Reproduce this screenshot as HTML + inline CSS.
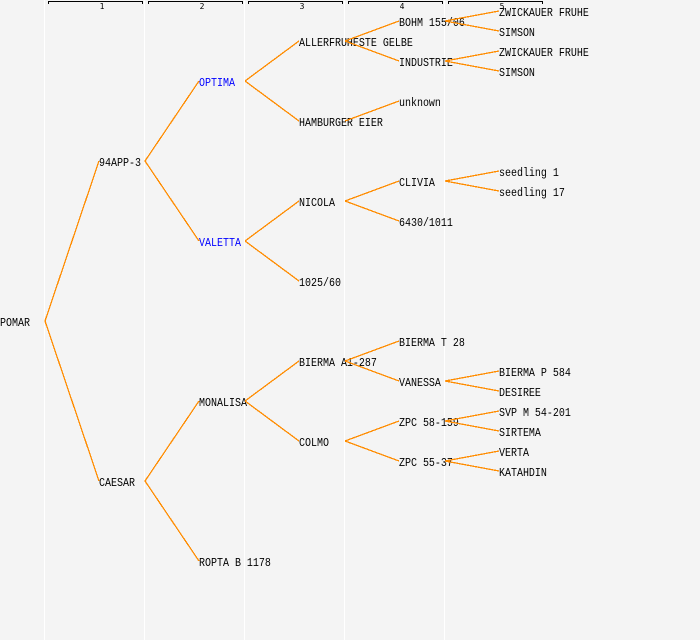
<!DOCTYPE html>
<html>
<head>
<meta charset="utf-8">
<style>
html,body{margin:0;padding:0;background:#f4f4f4;width:700px;height:640px;overflow:hidden}
svg{display:block}
text{font-family:"Liberation Mono","DejaVu Sans Mono",monospace;font-size:12px;fill:#000}
.b{fill:#0000ff}
.n{font-family:"DejaVu Sans Mono",monospace;font-size:8px;text-anchor:middle}
.w line{stroke:#fff;stroke-width:1}
.k path{fill:none;stroke:#000;stroke-width:1}
.o line{stroke:#ff8c00;stroke-width:1.3}
</style>
</head>
<body>
<svg width="700" height="640" viewBox="0 0 700 640" xmlns="http://www.w3.org/2000/svg">
<rect width="700" height="640" fill="#f4f4f4"/>
<g class="w" shape-rendering="crispEdges">
<line x1="44.5" y1="0" x2="44.5" y2="640"/>
<line x1="144.5" y1="0" x2="144.5" y2="640"/>
<line x1="244.5" y1="0" x2="244.5" y2="640"/>
<line x1="344.5" y1="0" x2="344.5" y2="640"/>
<line x1="444.5" y1="0" x2="444.5" y2="640"/>
</g>
<g class="k" shape-rendering="crispEdges">
<path d="M48.5 4V1.5H142.5V4"/>
<path d="M148.5 4V1.5H242.5V4"/>
<path d="M248.5 4V1.5H342.5V4"/>
<path d="M348.5 4V1.5H442.5V4"/>
<path d="M448.5 4V1.5H542.5V4"/>
</g>
<text class="n" x="102" y="9">1</text>
<text class="n" x="202" y="9">2</text>
<text class="n" x="302" y="9">3</text>
<text class="n" x="402" y="9">4</text>
<text class="n" x="502" y="9">5</text>

<g transform="scale(.8333 1)">
<text x="0" y="326">POMAR</text>
<text x="118.8" y="166">94APP-3</text>
<text x="118.8" y="486">CAESAR</text>
<text class="b" x="238.8" y="86">OPTIMA</text>
<text class="b" x="238.8" y="246">VALETTA</text>
<text x="238.8" y="406">MONALISA</text>
<text x="238.8" y="566">ROPTA B 1178</text>
<text x="358.8" y="46">ALLERFRUHESTE GELBE</text>
<text x="358.8" y="126">HAMBURGER EIER</text>
<text x="358.8" y="206">NICOLA</text>
<text x="358.8" y="286">1025/60</text>
<text x="358.8" y="366">BIERMA A1-287</text>
<text x="358.8" y="446">COLMO</text>
<text x="478.8" y="26">BOHM 155/06</text>
<text x="478.8" y="66">INDUSTRIE</text>
<text x="478.8" y="106">unknown</text>
<text x="478.8" y="186">CLIVIA</text>
<text x="478.8" y="226">6430/1011</text>
<text x="478.8" y="346">BIERMA T 28</text>
<text x="478.8" y="386">VANESSA</text>
<text x="478.8" y="426">ZPC 58-159</text>
<text x="478.8" y="466">ZPC 55-37</text>
<text x="598.8" y="16">ZWICKAUER FRUHE</text>
<text x="598.8" y="36">SIMSON</text>
<text x="598.8" y="56">ZWICKAUER FRUHE</text>
<text x="598.8" y="76">SIMSON</text>
<text x="598.8" y="176">seedling 1</text>
<text x="598.8" y="196">seedling 17</text>
<text x="598.8" y="376">BIERMA P 584</text>
<text x="598.8" y="396">DESIREE</text>
<text x="598.8" y="416">SVP M 54-201</text>
<text x="598.8" y="436">SIRTEMA</text>
<text x="598.8" y="456">VERTA</text>
<text x="598.8" y="476">KATAHDIN</text>
</g>

<g class="o" shape-rendering="crispEdges">
<line x1="45" y1="321" x2="99" y2="161"/>
<line x1="45" y1="321" x2="99" y2="481"/>
<line x1="145" y1="161" x2="199" y2="81"/>
<line x1="145" y1="161" x2="199" y2="241"/>
<line x1="145" y1="481" x2="199" y2="401"/>
<line x1="145" y1="481" x2="199" y2="561"/>
<line x1="245" y1="81" x2="299" y2="41"/>
<line x1="245" y1="81" x2="299" y2="121"/>
<line x1="245" y1="241" x2="299" y2="201"/>
<line x1="245" y1="241" x2="299" y2="281"/>
<line x1="245" y1="401" x2="299" y2="361"/>
<line x1="245" y1="401" x2="299" y2="441"/>
<line x1="345" y1="41" x2="399" y2="21"/>
<line x1="345" y1="41" x2="399" y2="61"/>
<line x1="345" y1="121" x2="399" y2="101"/>
<line x1="345" y1="201" x2="399" y2="181"/>
<line x1="345" y1="201" x2="399" y2="221"/>
<line x1="345" y1="361" x2="399" y2="341"/>
<line x1="345" y1="361" x2="399" y2="381"/>
<line x1="345" y1="441" x2="399" y2="421"/>
<line x1="345" y1="441" x2="399" y2="461"/>
<line x1="445" y1="21" x2="499" y2="11"/>
<line x1="445" y1="21" x2="499" y2="31"/>
<line x1="445" y1="61" x2="499" y2="51"/>
<line x1="445" y1="61" x2="499" y2="71"/>
<line x1="445" y1="181" x2="499" y2="171"/>
<line x1="445" y1="181" x2="499" y2="191"/>
<line x1="445" y1="381" x2="499" y2="371"/>
<line x1="445" y1="381" x2="499" y2="391"/>
<line x1="445" y1="421" x2="499" y2="411"/>
<line x1="445" y1="421" x2="499" y2="431"/>
<line x1="445" y1="461" x2="499" y2="451"/>
<line x1="445" y1="461" x2="499" y2="471"/>
</g>
</svg>
</body>
</html>
